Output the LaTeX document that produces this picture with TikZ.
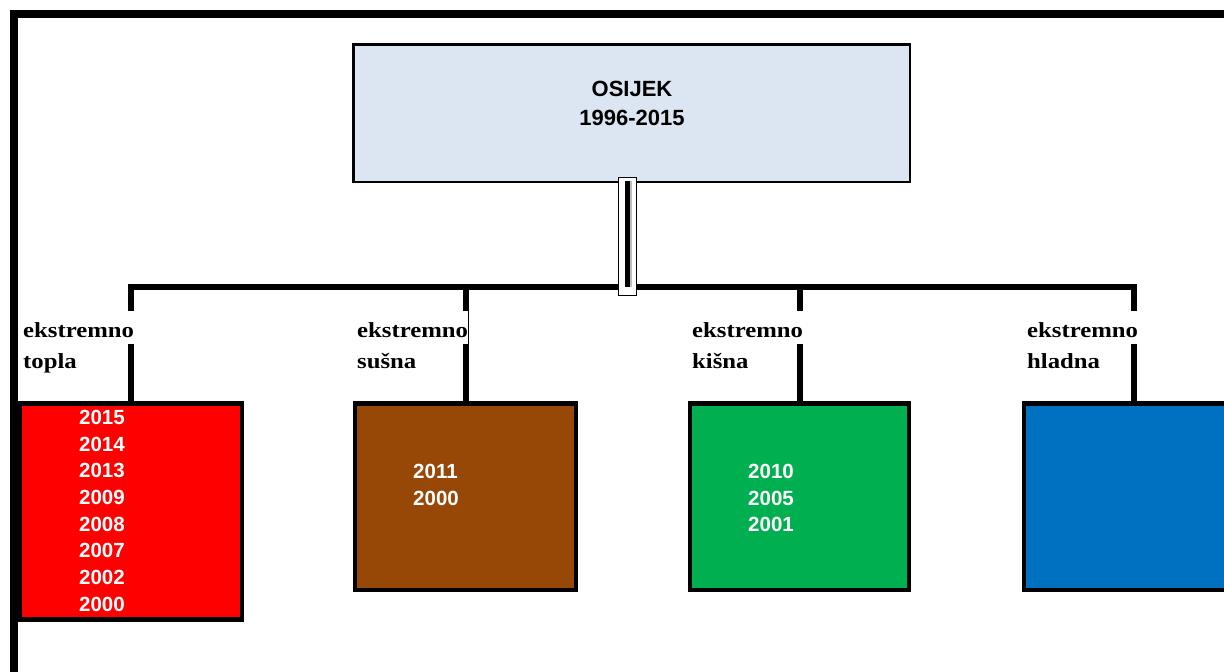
\documentclass[tikz,border=0pt]{standalone}
\usepackage{fontspec}
\setmainfont{Liberation Sans}
\newfontfamily\lblfont{Liberation Serif}[UprightFont={* Bold}, FakeStretch=1.15]
\definecolor{topfill}{HTML}{DCE6F2}
\definecolor{cred}{HTML}{FF0000}
\definecolor{cbrown}{HTML}{984806}
\definecolor{cgreen}{HTML}{00B050}
\definecolor{cblue}{HTML}{0070C0}
\tikzset{
  topbox/.style={draw=black, fill=topfill, line width=2.5pt, inner sep=0pt, outer sep=0pt, anchor=north west},
  catbox/.style={draw=black, line width=4.5pt, inner sep=0pt, outer sep=0pt, anchor=north west},
  treeline/.style={line width=6pt, line join=miter, line cap=rect},
  frameline/.style={line width=8pt, line join=miter},
  sleeve/.style={draw=black, fill=white, line width=0.9pt, inner sep=0pt, outer sep=0pt},
  lbl/.style={font=\lblfont\fontsize{21.5}{25}\selectfont, inner sep=0pt, anchor=base west},
  lblw/.style={lbl, fill=white, text height=26pt, text depth=7pt},
  yr/.style={font=\bfseries\fontsize{20.5}{24}\selectfont, text=white, inner sep=0pt, anchor=base west},
  ttl/.style={font=\bfseries\fontsize{22}{26}\selectfont, inner sep=0pt, anchor=base}
}
\begin{document}
\begin{tikzpicture}[x=1pt,y=-1pt]
\useasboundingbox (0,0) rectangle (1224,672);
\clip (0,0) rectangle (1224,672);
% outer frame
\draw[frameline] (14,700) -- (14,14) -- (1260,14);
% top box
\node[topbox, minimum width=556.5pt, minimum height=137.5pt] (osijek) at (353.3,44.3) {};
\node[ttl] (t1) at (632,96) {OSIJEK};
\node[ttl] (t2) at (632,125) {1996-2015};
% category boxes (positions only; drawn after the tree)
\path[catbox, minimum width=222.5pt, minimum height=216pt] node[catbox, draw=none, minimum width=222.5pt, minimum height=216pt] (b1) at (19.5,403.5) {};
\node[catbox, draw=none, minimum width=220.6pt, minimum height=186.3pt] (b2) at (355.2,403.5) {};
\node[catbox, draw=none, minimum width=218.6pt, minimum height=186.3pt] (b3) at (690.2,403.5) {};
\node[catbox, draw=none, minimum width=219.6pt, minimum height=186.3pt] (b4) at (1024.2,403.5) {};
% tree
\coordinate (hub) at (627.5,286.5);
\draw[treeline] (b1.north) -- (b1.north |- hub) -- (b4.north |- hub) -- (b4.north);
\draw[treeline] (b2.north) -- (b2.north |- hub);
\draw[treeline] (b3.north) -- (b3.north |- hub);
% boxes drawn over the tree ends
\draw[catbox, fill=cred] (b1.north west) rectangle (b1.south east);
\draw[catbox, fill=cbrown] (b2.north west) rectangle (b2.south east);
\draw[catbox, fill=cgreen] (b3.north west) rectangle (b3.south east);
\draw[catbox, fill=cblue] (b4.north west) rectangle (b4.south east);
% connector from top box
\node[sleeve, minimum width=18.4pt, minimum height=118.4pt] (sl) at (627.5,236.5) {};
\coordinate (ctop) at (627.5,180.7);
\coordinate (cbot) at (627.5,286.7);
\draw[line width=2pt, black!25] ([xshift=3pt]ctop) -- ([xshift=3pt]cbot);
\draw[line width=5.5pt] (ctop) -- (cbot);
% labels
\node[lblw] (l1) at (23,337) {ekstremno};
\node[lbl] (l1b) at (23,368) {topla};
\node[lblw] (l2) at (357,337) {ekstremno};
\node[lbl] (l2b) at (357,368) {sušna};
\node[lblw] (l3) at (692,337) {ekstremno};
\node[lbl] (l3b) at (692,368) {kišna};
\node[lblw] (l4) at (1027,337) {ekstremno};
\node[lbl] (l4b) at (1027,368) {hladna};
% years
\foreach \y [count=\i from 0] in {2015,2014,2013,2009,2008,2007,2002,2000}
  \node[yr] (r\i) at (79,424.3+26.7*\i) {\y};
\node[yr] (s0) at (413,478.3) {2011};
\node[yr] (s1) at (413,505) {2000};
\node[yr] (g0) at (748,478.3) {2010};
\node[yr] (g1) at (748,505) {2005};
\node[yr] (g2) at (748,531.7) {2001};
\end{tikzpicture}
\end{document}
